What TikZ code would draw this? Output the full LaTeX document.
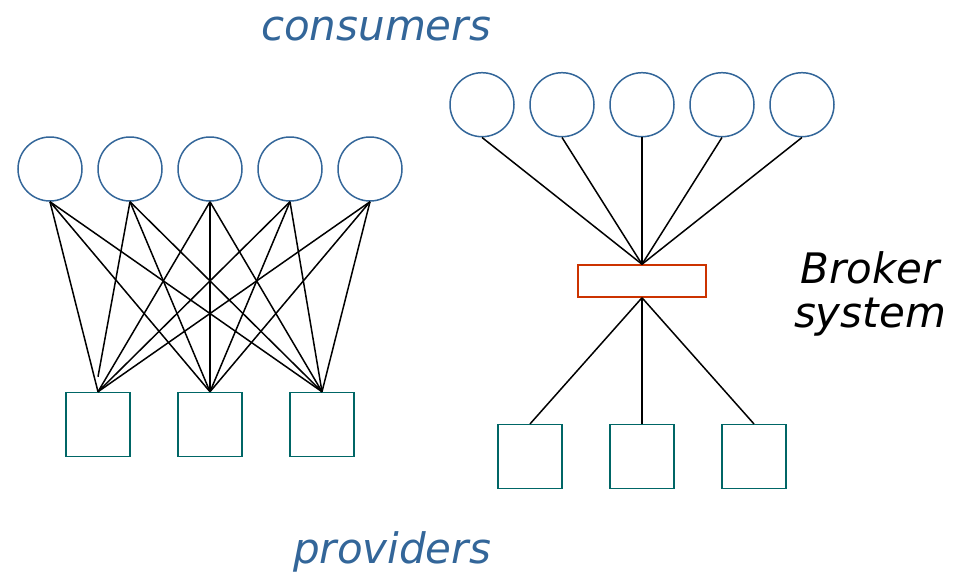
\documentclass[tikz,border=0pt]{standalone}
\usepackage{fontspec}
\setmainfont{DejaVu Sans}
\usetikzlibrary{calc}
\definecolor{consblue}{HTML}{336699}
\definecolor{provteal}{HTML}{006666}
\definecolor{brokred}{HTML}{CC3300}
\tikzset{
  cons/.style={draw=consblue, line width=1.5pt, circle, minimum size=64pt, inner sep=0pt},
  prov/.style={draw=provteal, line width=1.5pt, rectangle, minimum size=64pt, inner sep=0pt},
  brok/.style={draw=brokred, line width=1.5pt, rectangle, minimum width=128pt, minimum height=32pt, inner sep=0pt},
  link/.style={draw=black, line width=1.5pt},
  lbl/.style={font=\fontsize{42}{44}\selectfont\itshape, anchor=base, inner sep=0pt},
}
\begin{document}
\begin{tikzpicture}[x=1pt,y=-1pt]
\useasboundingbox (0,0) rectangle (959,573);
% left: direct connections
\foreach \i/\x in {1/50,2/130,3/210,4/290,5/370}
  \node[cons] (lc\i) at (\x,169) {};
\foreach \i/\x in {1/98,2/210,3/322}
  \node[prov] (ls\i) at (\x,424.5) {};
\coordinate (ls1short) at ([yshift=15pt]ls1.north);
\draw[link] (lc2.south) -- (ls1short);
\foreach \c in {1,2,3,4,5}
  \foreach \s in {1,2,3}{
    \ifnum\c=2 \ifnum\s=1 \else \draw[link] (lc\c.south) -- (ls\s.north); \fi
    \else \draw[link] (lc\c.south) -- (ls\s.north); \fi
  }
% right: broker
\foreach \i/\x in {1/482,2/562,3/642,4/722,5/802}
  \node[cons] (rc\i) at (\x,104.7) {};
\node[brok] (br) at (642,281) {};
\foreach \i/\x in {1/530,2/642,3/754}
  \node[prov] (rs\i) at (\x,456.7) {};
\foreach \i in {1,...,5}
  \draw[link] (rc\i.south) -- (br.north);
\foreach \i in {1,2,3}
  \draw[link] (br.south) -- (rs\i.north);
% labels
\node[lbl, text=consblue] (tcons) at (376,40) {consumers};
\node[lbl, text=consblue] (tprov) at (392,563) {providers};
\node[lbl, text=black] (tbrok1) at (870,283) {Broker};
\node[lbl, text=black] (tbrok2) at (870,327) {system};
\end{tikzpicture}
\end{document}
